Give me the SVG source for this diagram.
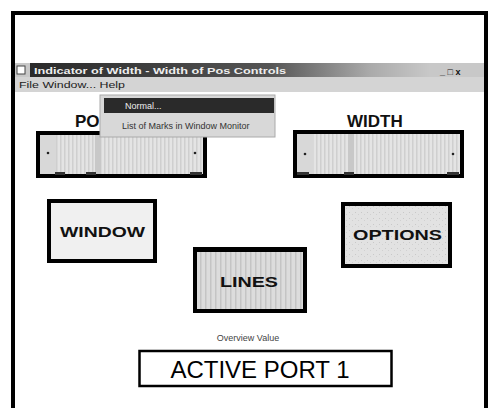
<svg xmlns="http://www.w3.org/2000/svg" width="492" height="408" viewBox="0 0 492 408">
<defs>
<linearGradient id="tg" x1="0" y1="0" x2="1" y2="0">
<stop offset="0" stop-color="#2a2a2a"/>
<stop offset="0.6" stop-color="#555"/>
<stop offset="0.85" stop-color="#aaa"/>
<stop offset="1" stop-color="#c8c8c8"/>
</linearGradient>
<pattern id="stripe" width="4" height="4" patternUnits="userSpaceOnUse">
<rect width="4" height="4" fill="#e4e4e4"/>
<rect x="0" width="1.5" height="4" fill="#cfcfcf"/>
</pattern>
<pattern id="stripe2" width="5" height="5" patternUnits="userSpaceOnUse">
<rect width="5" height="5" fill="#dcdcdc"/>
<rect x="0" width="1.5" height="5" fill="#c4c4c4"/>
</pattern>
<pattern id="dots" width="6" height="6" patternUnits="userSpaceOnUse">
<rect width="6" height="6" fill="#e2e2e2"/>
<rect x="1" y="2" width="1" height="1" fill="#c8c8c8"/>
<rect x="4" y="4" width="1" height="1" fill="#d0d0d0"/>
</pattern>
</defs>
<style>
.lbl{font-family:"Liberation Sans",Arial,sans-serif;font-weight:bold;fill:#111}
.btn{stroke:#000;stroke-width:4}
.small{font-family:"Liberation Sans",Arial,sans-serif;font-size:9px}
</style>
<rect width="492" height="408" fill="#fff"/>
<g id="frame">
<path d="M13 420 V13 H486 V420" fill="none" stroke="#000" stroke-width="4"/>
</g>
<g id="titlebar">
<rect x="15" y="63" width="469" height="14" fill="#c8c8c8"/>
<rect x="30" y="63" width="400" height="14" fill="url(#tg)"/>
<rect x="17" y="66" width="8" height="8" fill="#fff" stroke="#444" stroke-width="1"/>
<text x="34" y="74" class="small" font-weight="bold" fill="#eee" textLength="252" lengthAdjust="spacingAndGlyphs">Indicator of Width - Width of Pos Controls</text>
<text x="440" y="75" class="small" font-weight="bold" fill="#111">_ □ x</text>
</g>
<g id="menubar">
<rect x="15" y="77" width="469" height="15" fill="#d4d4d4"/>
<text x="19" y="88" class="small" fill="#222" textLength="106" lengthAdjust="spacingAndGlyphs">File  Window...   Help</text>
</g>
<g id="pos">
<text x="75" y="127" class="lbl" font-size="17">POS</text>
<rect x="38" y="133" width="167" height="43" fill="url(#stripe)" stroke="#000" stroke-width="4"/>
<rect x="40" y="135" width="16" height="39" fill="#d8d8d8"/>
<rect x="95" y="135" width="6" height="39" fill="#c8c8c8"/>
<rect x="55" y="172" width="10" height="3" fill="#333"/>
<rect x="86" y="172" width="10" height="3" fill="#333"/>
<rect x="190" y="172" width="12" height="3" fill="#333"/>
<circle cx="48" cy="153" r="1.3" fill="#222"/>
<circle cx="195" cy="153" r="1.3" fill="#222"/>
</g>
<g id="dropdown">
<rect x="100" y="95" width="175" height="42" fill="#d8d8d8" stroke="#aaa" stroke-width="1"/>
<rect x="104" y="98" width="170" height="15" fill="#2a2a2a"/>
<text x="125" y="109" class="small" fill="#eee">Normal...</text>
<text x="122" y="129" class="small" fill="#333">List of Marks in Window Monitor</text>
</g>
<g id="width">
<text x="347" y="127" class="lbl" font-size="17">WIDTH</text>
<rect x="295" y="132" width="167" height="44" fill="url(#stripe)" stroke="#000" stroke-width="4"/>
<rect x="297" y="134" width="16" height="40" fill="#d8d8d8"/>
<rect x="348" y="134" width="6" height="40" fill="#c8c8c8"/>
<rect x="297" y="172" width="12" height="3" fill="#333"/>
<rect x="344" y="172" width="10" height="3" fill="#333"/>
<rect x="447" y="172" width="12" height="3" fill="#333"/>
<circle cx="305" cy="154" r="1.3" fill="#222"/>
<circle cx="453" cy="154" r="1.3" fill="#222"/>
</g>
<g id="window">
<rect x="49" y="201" width="106" height="60" fill="#f0f0f0" class="btn"/>
<text x="60" y="237" class="lbl" font-size="15" textLength="85" lengthAdjust="spacingAndGlyphs">WINDOW</text>
</g>
<g id="options">
<rect x="343" y="204" width="107" height="62" fill="url(#dots)" class="btn"/>
<text x="353" y="240" class="lbl" font-size="15" textLength="89" lengthAdjust="spacingAndGlyphs">OPTIONS</text>
</g>
<g id="lines">
<rect x="195" y="249" width="110" height="62" fill="url(#stripe2)" class="btn"/>
<rect x="193" y="247" width="114" height="5" fill="#000"/>
<text x="220" y="287" class="lbl" font-size="15" fill="#333" textLength="58" lengthAdjust="spacingAndGlyphs">LINES</text>
</g>
<g id="overview">
<text x="248" y="341" class="small" text-anchor="middle" fill="#444">Overview Value</text>
</g>
<g id="active">
<rect x="139.5" y="351" width="252" height="35" fill="#fff" stroke="#000" stroke-width="2.5"/>
<text x="260" y="378" font-family="Liberation Sans,Arial,sans-serif" font-size="24" text-anchor="middle" fill="#000">ACTIVE PORT 1</text>
</g>
<g id="connectors"></g>
</svg>
